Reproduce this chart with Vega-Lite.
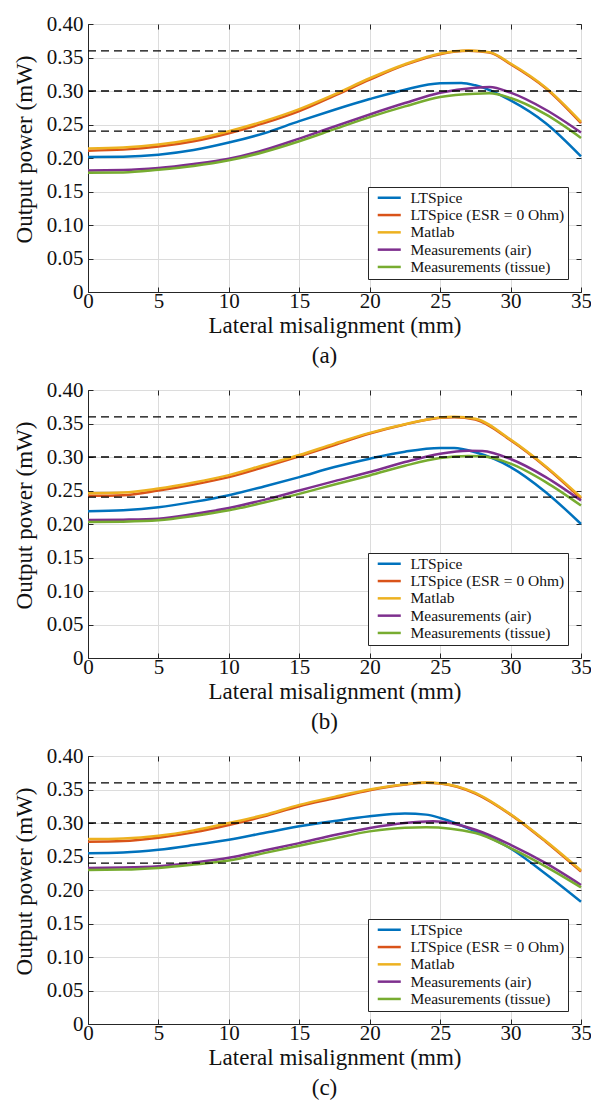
{
  "$schema": "https://vega.github.io/schema/vega-lite/v6.json",
  "background": "white",
  "padding": {"left": 12, "top": 12, "right": 0, "bottom": 0},
  "spacing": 9,
  "config": {
    "font": "Liberation Serif, Times New Roman, Tinos, DejaVu Serif, serif",
    "view": {"stroke": "#262626", "strokeWidth": 1},
    "axis": {
      "labelFont": "Liberation Serif, Times New Roman, Tinos, DejaVu Serif, serif",
      "labelFontSize": 21,
      "labelColor": "#111111",
      "titleFont": "Liberation Serif, Times New Roman, Tinos, DejaVu Serif, serif",
      "titleFontSize": 23,
      "titleFontWeight": "normal",
      "titleColor": "#111111",
      "gridColor": "#dcdcdc",
      "gridWidth": 1,
      "domainColor": "#262626",
      "tickColor": "#262626",
      "tickSize": -5,
      "labelFlush": false,
      "labelOverlap": false
    },
    "legend": {
      "orient": "bottom-right",
      "offset": 13,
      "title": null,
      "labelFont": "Liberation Serif, Times New Roman, Tinos, DejaVu Serif, serif",
      "labelFontSize": 15.5,
      "labelColor": "#111111",
      "strokeColor": "#262626",
      "fillColor": "white",
      "padding": 3,
      "symbolType": "M-2.5,0H2.5",
      "symbolSize": 85,
      "symbolStrokeWidth": 2.5,
      "symbolOffset": 10.5,
      "labelOffset": 13.5,
      "rowPadding": 0.3,
      "labelLimit": 300
    },
    "title": {"font": "Liberation Serif, Times New Roman, Tinos, DejaVu Serif, serif", "fontSize": 23, "fontWeight": "normal", "color": "#111111"}
  },
  "datasets": {
    "thresholds": [
      {"x": 0, "x2": 35, "level": 0.36},
      {"x": 0, "x2": 35, "level": 0.30},
      {"x": 0, "x2": 35, "level": 0.24}
    ],
    "curves": [
      {"panel": "a", "series": "LTSpice", "x": 0, "power": 0.2015},
      {"panel": "a", "series": "LTSpice", "x": 2.5, "power": 0.202},
      {"panel": "a", "series": "LTSpice", "x": 5, "power": 0.205},
      {"panel": "a", "series": "LTSpice", "x": 7.5, "power": 0.212},
      {"panel": "a", "series": "LTSpice", "x": 10, "power": 0.223},
      {"panel": "a", "series": "LTSpice", "x": 12.5, "power": 0.237},
      {"panel": "a", "series": "LTSpice", "x": 15, "power": 0.255},
      {"panel": "a", "series": "LTSpice", "x": 17.5, "power": 0.272},
      {"panel": "a", "series": "LTSpice", "x": 20, "power": 0.288},
      {"panel": "a", "series": "LTSpice", "x": 22.5, "power": 0.302},
      {"panel": "a", "series": "LTSpice", "x": 25, "power": 0.3115},
      {"panel": "a", "series": "LTSpice", "x": 26.5, "power": 0.312},
      {"panel": "a", "series": "LTSpice", "x": 27.5, "power": 0.3085},
      {"panel": "a", "series": "LTSpice", "x": 30, "power": 0.286},
      {"panel": "a", "series": "LTSpice", "x": 32.5, "power": 0.252},
      {"panel": "a", "series": "LTSpice", "x": 35, "power": 0.2025},

      {"panel": "a", "series": "LTSpice (ESR = 0 Ohm)", "x": 0, "power": 0.211},
      {"panel": "a", "series": "LTSpice (ESR = 0 Ohm)", "x": 2.5, "power": 0.2125},
      {"panel": "a", "series": "LTSpice (ESR = 0 Ohm)", "x": 5, "power": 0.217},
      {"panel": "a", "series": "LTSpice (ESR = 0 Ohm)", "x": 7.5, "power": 0.225},
      {"panel": "a", "series": "LTSpice (ESR = 0 Ohm)", "x": 10, "power": 0.237},
      {"panel": "a", "series": "LTSpice (ESR = 0 Ohm)", "x": 12.5, "power": 0.252},
      {"panel": "a", "series": "LTSpice (ESR = 0 Ohm)", "x": 15, "power": 0.270},
      {"panel": "a", "series": "LTSpice (ESR = 0 Ohm)", "x": 17.5, "power": 0.293},
      {"panel": "a", "series": "LTSpice (ESR = 0 Ohm)", "x": 20, "power": 0.317},
      {"panel": "a", "series": "LTSpice (ESR = 0 Ohm)", "x": 22.5, "power": 0.339},
      {"panel": "a", "series": "LTSpice (ESR = 0 Ohm)", "x": 25, "power": 0.355},
      {"panel": "a", "series": "LTSpice (ESR = 0 Ohm)", "x": 27, "power": 0.360},
      {"panel": "a", "series": "LTSpice (ESR = 0 Ohm)", "x": 28.5, "power": 0.3575},
      {"panel": "a", "series": "LTSpice (ESR = 0 Ohm)", "x": 30, "power": 0.340},
      {"panel": "a", "series": "LTSpice (ESR = 0 Ohm)", "x": 32.5, "power": 0.304},
      {"panel": "a", "series": "LTSpice (ESR = 0 Ohm)", "x": 35, "power": 0.252},

      {"panel": "a", "series": "Matlab", "x": 0, "power": 0.214},
      {"panel": "a", "series": "Matlab", "x": 2.5, "power": 0.2155},
      {"panel": "a", "series": "Matlab", "x": 5, "power": 0.220},
      {"panel": "a", "series": "Matlab", "x": 7.5, "power": 0.228},
      {"panel": "a", "series": "Matlab", "x": 10, "power": 0.240},
      {"panel": "a", "series": "Matlab", "x": 12.5, "power": 0.255},
      {"panel": "a", "series": "Matlab", "x": 15, "power": 0.273},
      {"panel": "a", "series": "Matlab", "x": 17.5, "power": 0.295},
      {"panel": "a", "series": "Matlab", "x": 20, "power": 0.319},
      {"panel": "a", "series": "Matlab", "x": 22.5, "power": 0.340},
      {"panel": "a", "series": "Matlab", "x": 25, "power": 0.356},
      {"panel": "a", "series": "Matlab", "x": 27, "power": 0.3605},
      {"panel": "a", "series": "Matlab", "x": 28.5, "power": 0.358},
      {"panel": "a", "series": "Matlab", "x": 30, "power": 0.341},
      {"panel": "a", "series": "Matlab", "x": 32.5, "power": 0.305},
      {"panel": "a", "series": "Matlab", "x": 35, "power": 0.254},

      {"panel": "a", "series": "Measurements (air)", "x": 0, "power": 0.1815},
      {"panel": "a", "series": "Measurements (air)", "x": 2.5, "power": 0.182},
      {"panel": "a", "series": "Measurements (air)", "x": 5, "power": 0.185},
      {"panel": "a", "series": "Measurements (air)", "x": 7.5, "power": 0.191},
      {"panel": "a", "series": "Measurements (air)", "x": 10, "power": 0.199},
      {"panel": "a", "series": "Measurements (air)", "x": 12.5, "power": 0.212},
      {"panel": "a", "series": "Measurements (air)", "x": 15, "power": 0.229},
      {"panel": "a", "series": "Measurements (air)", "x": 17.5, "power": 0.247},
      {"panel": "a", "series": "Measurements (air)", "x": 20, "power": 0.265},
      {"panel": "a", "series": "Measurements (air)", "x": 22.5, "power": 0.282},
      {"panel": "a", "series": "Measurements (air)", "x": 25, "power": 0.2975},
      {"panel": "a", "series": "Measurements (air)", "x": 27.5, "power": 0.305},
      {"panel": "a", "series": "Measurements (air)", "x": 28.5, "power": 0.306},
      {"panel": "a", "series": "Measurements (air)", "x": 30, "power": 0.2975},
      {"panel": "a", "series": "Measurements (air)", "x": 32.5, "power": 0.272},
      {"panel": "a", "series": "Measurements (air)", "x": 35, "power": 0.238},

      {"panel": "a", "series": "Measurements (tissue)", "x": 0, "power": 0.178},
      {"panel": "a", "series": "Measurements (tissue)", "x": 2.5, "power": 0.1785},
      {"panel": "a", "series": "Measurements (tissue)", "x": 5, "power": 0.1825},
      {"panel": "a", "series": "Measurements (tissue)", "x": 7.5, "power": 0.188},
      {"panel": "a", "series": "Measurements (tissue)", "x": 10, "power": 0.1965},
      {"panel": "a", "series": "Measurements (tissue)", "x": 12.5, "power": 0.209},
      {"panel": "a", "series": "Measurements (tissue)", "x": 15, "power": 0.225},
      {"panel": "a", "series": "Measurements (tissue)", "x": 17.5, "power": 0.243},
      {"panel": "a", "series": "Measurements (tissue)", "x": 20, "power": 0.261},
      {"panel": "a", "series": "Measurements (tissue)", "x": 22.5, "power": 0.277},
      {"panel": "a", "series": "Measurements (tissue)", "x": 25, "power": 0.291},
      {"panel": "a", "series": "Measurements (tissue)", "x": 27.5, "power": 0.296},
      {"panel": "a", "series": "Measurements (tissue)", "x": 28.5, "power": 0.2965},
      {"panel": "a", "series": "Measurements (tissue)", "x": 30, "power": 0.2895},
      {"panel": "a", "series": "Measurements (tissue)", "x": 32.5, "power": 0.265},
      {"panel": "a", "series": "Measurements (tissue)", "x": 35, "power": 0.230},

      {"panel": "b", "series": "LTSpice", "x": 0, "power": 0.219},
      {"panel": "b", "series": "LTSpice", "x": 2.5, "power": 0.2205},
      {"panel": "b", "series": "LTSpice", "x": 5, "power": 0.225},
      {"panel": "b", "series": "LTSpice", "x": 7.5, "power": 0.233},
      {"panel": "b", "series": "LTSpice", "x": 10, "power": 0.243},
      {"panel": "b", "series": "LTSpice", "x": 12.5, "power": 0.256},
      {"panel": "b", "series": "LTSpice", "x": 15, "power": 0.270},
      {"panel": "b", "series": "LTSpice", "x": 17.5, "power": 0.285},
      {"panel": "b", "series": "LTSpice", "x": 20, "power": 0.2975},
      {"panel": "b", "series": "LTSpice", "x": 22.5, "power": 0.308},
      {"panel": "b", "series": "LTSpice", "x": 25, "power": 0.3135},
      {"panel": "b", "series": "LTSpice", "x": 26, "power": 0.3135},
      {"panel": "b", "series": "LTSpice", "x": 27.5, "power": 0.307},
      {"panel": "b", "series": "LTSpice", "x": 30, "power": 0.285},
      {"panel": "b", "series": "LTSpice", "x": 32.5, "power": 0.2475},
      {"panel": "b", "series": "LTSpice", "x": 35, "power": 0.200},

      {"panel": "b", "series": "LTSpice (ESR = 0 Ohm)", "x": 0, "power": 0.242},
      {"panel": "b", "series": "LTSpice (ESR = 0 Ohm)", "x": 2.5, "power": 0.243},
      {"panel": "b", "series": "LTSpice (ESR = 0 Ohm)", "x": 5, "power": 0.250},
      {"panel": "b", "series": "LTSpice (ESR = 0 Ohm)", "x": 7.5, "power": 0.259},
      {"panel": "b", "series": "LTSpice (ESR = 0 Ohm)", "x": 10, "power": 0.270},
      {"panel": "b", "series": "LTSpice (ESR = 0 Ohm)", "x": 12.5, "power": 0.285},
      {"panel": "b", "series": "LTSpice (ESR = 0 Ohm)", "x": 15, "power": 0.301},
      {"panel": "b", "series": "LTSpice (ESR = 0 Ohm)", "x": 17.5, "power": 0.318},
      {"panel": "b", "series": "LTSpice (ESR = 0 Ohm)", "x": 20, "power": 0.335},
      {"panel": "b", "series": "LTSpice (ESR = 0 Ohm)", "x": 22.5, "power": 0.3485},
      {"panel": "b", "series": "LTSpice (ESR = 0 Ohm)", "x": 25, "power": 0.3585},
      {"panel": "b", "series": "LTSpice (ESR = 0 Ohm)", "x": 26, "power": 0.3595},
      {"panel": "b", "series": "LTSpice (ESR = 0 Ohm)", "x": 27.5, "power": 0.356},
      {"panel": "b", "series": "LTSpice (ESR = 0 Ohm)", "x": 30, "power": 0.325},
      {"panel": "b", "series": "LTSpice (ESR = 0 Ohm)", "x": 32.5, "power": 0.285},
      {"panel": "b", "series": "LTSpice (ESR = 0 Ohm)", "x": 35, "power": 0.238},

      {"panel": "b", "series": "Matlab", "x": 0, "power": 0.246},
      {"panel": "b", "series": "Matlab", "x": 2.5, "power": 0.247},
      {"panel": "b", "series": "Matlab", "x": 5, "power": 0.253},
      {"panel": "b", "series": "Matlab", "x": 7.5, "power": 0.262},
      {"panel": "b", "series": "Matlab", "x": 10, "power": 0.273},
      {"panel": "b", "series": "Matlab", "x": 12.5, "power": 0.288},
      {"panel": "b", "series": "Matlab", "x": 15, "power": 0.303},
      {"panel": "b", "series": "Matlab", "x": 17.5, "power": 0.320},
      {"panel": "b", "series": "Matlab", "x": 20, "power": 0.336},
      {"panel": "b", "series": "Matlab", "x": 22.5, "power": 0.349},
      {"panel": "b", "series": "Matlab", "x": 25, "power": 0.359},
      {"panel": "b", "series": "Matlab", "x": 26, "power": 0.360},
      {"panel": "b", "series": "Matlab", "x": 27.5, "power": 0.357},
      {"panel": "b", "series": "Matlab", "x": 30, "power": 0.326},
      {"panel": "b", "series": "Matlab", "x": 32.5, "power": 0.286},
      {"panel": "b", "series": "Matlab", "x": 35, "power": 0.240},

      {"panel": "b", "series": "Measurements (air)", "x": 0, "power": 0.206},
      {"panel": "b", "series": "Measurements (air)", "x": 2.5, "power": 0.2065},
      {"panel": "b", "series": "Measurements (air)", "x": 5, "power": 0.208},
      {"panel": "b", "series": "Measurements (air)", "x": 7.5, "power": 0.215},
      {"panel": "b", "series": "Measurements (air)", "x": 10, "power": 0.224},
      {"panel": "b", "series": "Measurements (air)", "x": 12.5, "power": 0.236},
      {"panel": "b", "series": "Measurements (air)", "x": 15, "power": 0.250},
      {"panel": "b", "series": "Measurements (air)", "x": 17.5, "power": 0.264},
      {"panel": "b", "series": "Measurements (air)", "x": 20, "power": 0.2775},
      {"panel": "b", "series": "Measurements (air)", "x": 22.5, "power": 0.2925},
      {"panel": "b", "series": "Measurements (air)", "x": 25, "power": 0.305},
      {"panel": "b", "series": "Measurements (air)", "x": 27, "power": 0.3095},
      {"panel": "b", "series": "Measurements (air)", "x": 28, "power": 0.309},
      {"panel": "b", "series": "Measurements (air)", "x": 30, "power": 0.297},
      {"panel": "b", "series": "Measurements (air)", "x": 32.5, "power": 0.270},
      {"panel": "b", "series": "Measurements (air)", "x": 35, "power": 0.235},

      {"panel": "b", "series": "Measurements (tissue)", "x": 0, "power": 0.203},
      {"panel": "b", "series": "Measurements (tissue)", "x": 2.5, "power": 0.2035},
      {"panel": "b", "series": "Measurements (tissue)", "x": 5, "power": 0.2055},
      {"panel": "b", "series": "Measurements (tissue)", "x": 7.5, "power": 0.212},
      {"panel": "b", "series": "Measurements (tissue)", "x": 10, "power": 0.2205},
      {"panel": "b", "series": "Measurements (tissue)", "x": 12.5, "power": 0.232},
      {"panel": "b", "series": "Measurements (tissue)", "x": 15, "power": 0.245},
      {"panel": "b", "series": "Measurements (tissue)", "x": 17.5, "power": 0.259},
      {"panel": "b", "series": "Measurements (tissue)", "x": 20, "power": 0.2725},
      {"panel": "b", "series": "Measurements (tissue)", "x": 22.5, "power": 0.287},
      {"panel": "b", "series": "Measurements (tissue)", "x": 25, "power": 0.2985},
      {"panel": "b", "series": "Measurements (tissue)", "x": 27, "power": 0.3015},
      {"panel": "b", "series": "Measurements (tissue)", "x": 28, "power": 0.301},
      {"panel": "b", "series": "Measurements (tissue)", "x": 30, "power": 0.290},
      {"panel": "b", "series": "Measurements (tissue)", "x": 32.5, "power": 0.2625},
      {"panel": "b", "series": "Measurements (tissue)", "x": 35, "power": 0.2275},

      {"panel": "c", "series": "LTSpice", "x": 0, "power": 0.255},
      {"panel": "c", "series": "LTSpice", "x": 2.5, "power": 0.256},
      {"panel": "c", "series": "LTSpice", "x": 5, "power": 0.260},
      {"panel": "c", "series": "LTSpice", "x": 7.5, "power": 0.267},
      {"panel": "c", "series": "LTSpice", "x": 10, "power": 0.275},
      {"panel": "c", "series": "LTSpice", "x": 12.5, "power": 0.285},
      {"panel": "c", "series": "LTSpice", "x": 15, "power": 0.295},
      {"panel": "c", "series": "LTSpice", "x": 17.5, "power": 0.303},
      {"panel": "c", "series": "LTSpice", "x": 20, "power": 0.310},
      {"panel": "c", "series": "LTSpice", "x": 22.5, "power": 0.314},
      {"panel": "c", "series": "LTSpice", "x": 24, "power": 0.3125},
      {"panel": "c", "series": "LTSpice", "x": 25, "power": 0.3075},
      {"panel": "c", "series": "LTSpice", "x": 27.5, "power": 0.2875},
      {"panel": "c", "series": "LTSpice", "x": 30, "power": 0.262},
      {"panel": "c", "series": "LTSpice", "x": 32.5, "power": 0.224},
      {"panel": "c", "series": "LTSpice", "x": 35, "power": 0.1825},

      {"panel": "c", "series": "LTSpice (ESR = 0 Ohm)", "x": 0, "power": 0.272},
      {"panel": "c", "series": "LTSpice (ESR = 0 Ohm)", "x": 2.5, "power": 0.273},
      {"panel": "c", "series": "LTSpice (ESR = 0 Ohm)", "x": 5, "power": 0.278},
      {"panel": "c", "series": "LTSpice (ESR = 0 Ohm)", "x": 7.5, "power": 0.286},
      {"panel": "c", "series": "LTSpice (ESR = 0 Ohm)", "x": 10, "power": 0.297},
      {"panel": "c", "series": "LTSpice (ESR = 0 Ohm)", "x": 12.5, "power": 0.310},
      {"panel": "c", "series": "LTSpice (ESR = 0 Ohm)", "x": 15, "power": 0.325},
      {"panel": "c", "series": "LTSpice (ESR = 0 Ohm)", "x": 17.5, "power": 0.337},
      {"panel": "c", "series": "LTSpice (ESR = 0 Ohm)", "x": 20, "power": 0.349},
      {"panel": "c", "series": "LTSpice (ESR = 0 Ohm)", "x": 22.5, "power": 0.3575},
      {"panel": "c", "series": "LTSpice (ESR = 0 Ohm)", "x": 24, "power": 0.360},
      {"panel": "c", "series": "LTSpice (ESR = 0 Ohm)", "x": 25, "power": 0.359},
      {"panel": "c", "series": "LTSpice (ESR = 0 Ohm)", "x": 27.5, "power": 0.344},
      {"panel": "c", "series": "LTSpice (ESR = 0 Ohm)", "x": 30, "power": 0.3125},
      {"panel": "c", "series": "LTSpice (ESR = 0 Ohm)", "x": 32.5, "power": 0.272},
      {"panel": "c", "series": "LTSpice (ESR = 0 Ohm)", "x": 35, "power": 0.2275},

      {"panel": "c", "series": "Matlab", "x": 0, "power": 0.276},
      {"panel": "c", "series": "Matlab", "x": 2.5, "power": 0.277},
      {"panel": "c", "series": "Matlab", "x": 5, "power": 0.281},
      {"panel": "c", "series": "Matlab", "x": 7.5, "power": 0.289},
      {"panel": "c", "series": "Matlab", "x": 10, "power": 0.300},
      {"panel": "c", "series": "Matlab", "x": 12.5, "power": 0.312},
      {"panel": "c", "series": "Matlab", "x": 15, "power": 0.327},
      {"panel": "c", "series": "Matlab", "x": 17.5, "power": 0.339},
      {"panel": "c", "series": "Matlab", "x": 20, "power": 0.350},
      {"panel": "c", "series": "Matlab", "x": 22.5, "power": 0.358},
      {"panel": "c", "series": "Matlab", "x": 24, "power": 0.3605},
      {"panel": "c", "series": "Matlab", "x": 25, "power": 0.3595},
      {"panel": "c", "series": "Matlab", "x": 27.5, "power": 0.345},
      {"panel": "c", "series": "Matlab", "x": 30, "power": 0.313},
      {"panel": "c", "series": "Matlab", "x": 32.5, "power": 0.273},
      {"panel": "c", "series": "Matlab", "x": 35, "power": 0.229},

      {"panel": "c", "series": "Measurements (air)", "x": 0, "power": 0.233},
      {"panel": "c", "series": "Measurements (air)", "x": 2.5, "power": 0.2335},
      {"panel": "c", "series": "Measurements (air)", "x": 5, "power": 0.2355},
      {"panel": "c", "series": "Measurements (air)", "x": 7.5, "power": 0.241},
      {"panel": "c", "series": "Measurements (air)", "x": 10, "power": 0.248},
      {"panel": "c", "series": "Measurements (air)", "x": 12.5, "power": 0.259},
      {"panel": "c", "series": "Measurements (air)", "x": 15, "power": 0.270},
      {"panel": "c", "series": "Measurements (air)", "x": 17.5, "power": 0.282},
      {"panel": "c", "series": "Measurements (air)", "x": 20, "power": 0.2925},
      {"panel": "c", "series": "Measurements (air)", "x": 22.5, "power": 0.300},
      {"panel": "c", "series": "Measurements (air)", "x": 24.5, "power": 0.3025},
      {"panel": "c", "series": "Measurements (air)", "x": 27.5, "power": 0.290},
      {"panel": "c", "series": "Measurements (air)", "x": 30, "power": 0.2675},
      {"panel": "c", "series": "Measurements (air)", "x": 32.5, "power": 0.240},
      {"panel": "c", "series": "Measurements (air)", "x": 35, "power": 0.2075},

      {"panel": "c", "series": "Measurements (tissue)", "x": 0, "power": 0.230},
      {"panel": "c", "series": "Measurements (tissue)", "x": 2.5, "power": 0.2305},
      {"panel": "c", "series": "Measurements (tissue)", "x": 5, "power": 0.233},
      {"panel": "c", "series": "Measurements (tissue)", "x": 7.5, "power": 0.238},
      {"panel": "c", "series": "Measurements (tissue)", "x": 10, "power": 0.244},
      {"panel": "c", "series": "Measurements (tissue)", "x": 12.5, "power": 0.255},
      {"panel": "c", "series": "Measurements (tissue)", "x": 15, "power": 0.266},
      {"panel": "c", "series": "Measurements (tissue)", "x": 17.5, "power": 0.277},
      {"panel": "c", "series": "Measurements (tissue)", "x": 20, "power": 0.2875},
      {"panel": "c", "series": "Measurements (tissue)", "x": 22.5, "power": 0.293},
      {"panel": "c", "series": "Measurements (tissue)", "x": 24, "power": 0.2935},
      {"panel": "c", "series": "Measurements (tissue)", "x": 27.5, "power": 0.285},
      {"panel": "c", "series": "Measurements (tissue)", "x": 30, "power": 0.2625},
      {"panel": "c", "series": "Measurements (tissue)", "x": 32.5, "power": 0.235},
      {"panel": "c", "series": "Measurements (tissue)", "x": 35, "power": 0.204}
    ]
  },
  "resolve": {"scale": {"color": "independent"}},
  "vconcat": [
    {
      "width": 493, "height": 268,
      "title": {"text": "(a)", "orient": "bottom", "frame": "group", "anchor": "middle", "offset": 8, "dx": -10},
      "layer": [
        {
          "data": {"name": "curves"},
          "transform": [{"filter": "datum.panel == 'a'"}],
          "mark": {"type": "line", "strokeWidth": 2.5, "interpolate": "monotone"},
          "encoding": {
            "x": {"field": "x", "type": "quantitative", "scale": {"domain": [0, 35], "nice": false},
                  "axis": {"values": [0, 5, 10, 15, 20, 25, 30, 35], "title": "Lateral misalignment (mm)", "labelPadding": 3, "titlePadding": 3, "grid": true}},
            "y": {"field": "power", "type": "quantitative", "scale": {"domain": [0, 0.4], "nice": false},
                  "axis": {"values": [0, 0.05, 0.1, 0.15, 0.2, 0.25, 0.3, 0.35, 0.4], "title": "Output power (mW)", "labelExpr": "datum.value == 0 ? '0' : format(datum.value, '.2f')", "labelPadding": 10, "titlePadding": 10, "titleY": 125, "grid": true}},
            "color": {"field": "series", "type": "nominal",
                      "scale": {"domain": ["LTSpice", "LTSpice (ESR = 0 Ohm)", "Matlab", "Measurements (air)", "Measurements (tissue)"], "range": ["#0072BD", "#D95319", "#EDB120", "#7E2F8E", "#77AC30"]}}
          }
        },
        {
          "data": {"name": "thresholds"},
          "mark": {"type": "rule", "color": "black", "strokeDash": [8, 5], "strokeWidth": 1.3},
          "encoding": {
            "x": {"field": "x", "type": "quantitative", "scale": {"domain": [0, 35], "nice": false},
                  "axis": {"orient": "top", "values": [0, 5, 10, 15, 20, 25, 30, 35], "labels": false, "title": null, "grid": false, "domain": false}},
            "x2": {"field": "x2"},
            "y": {"field": "level", "type": "quantitative", "scale": {"domain": [0, 0.4], "nice": false},
                  "axis": {"orient": "right", "values": [0, 0.05, 0.1, 0.15, 0.2, 0.25, 0.3, 0.35, 0.4], "labels": false, "title": null, "grid": false, "domain": false}}
          }
        }
      ],
      "resolve": {"axis": {"x": "independent", "y": "independent"}}
    },
    {
      "width": 493, "height": 268,
      "title": {"text": "(b)", "orient": "bottom", "frame": "group", "anchor": "middle", "offset": 8, "dx": -10},
      "layer": [
        {
          "data": {"name": "curves"},
          "transform": [{"filter": "datum.panel == 'b'"}],
          "mark": {"type": "line", "strokeWidth": 2.5, "interpolate": "monotone"},
          "encoding": {
            "x": {"field": "x", "type": "quantitative", "scale": {"domain": [0, 35], "nice": false},
                  "axis": {"values": [0, 5, 10, 15, 20, 25, 30, 35], "title": "Lateral misalignment (mm)", "labelPadding": 3, "titlePadding": 3, "grid": true}},
            "y": {"field": "power", "type": "quantitative", "scale": {"domain": [0, 0.4], "nice": false},
                  "axis": {"values": [0, 0.05, 0.1, 0.15, 0.2, 0.25, 0.3, 0.35, 0.4], "title": "Output power (mW)", "labelExpr": "datum.value == 0 ? '0' : format(datum.value, '.2f')", "labelPadding": 10, "titlePadding": 10, "titleY": 125, "grid": true}},
            "color": {"field": "series", "type": "nominal",
                      "scale": {"domain": ["LTSpice", "LTSpice (ESR = 0 Ohm)", "Matlab", "Measurements (air)", "Measurements (tissue)"], "range": ["#0072BD", "#D95319", "#EDB120", "#7E2F8E", "#77AC30"]}}
          }
        },
        {
          "data": {"name": "thresholds"},
          "mark": {"type": "rule", "color": "black", "strokeDash": [8, 5], "strokeWidth": 1.3},
          "encoding": {
            "x": {"field": "x", "type": "quantitative", "scale": {"domain": [0, 35], "nice": false},
                  "axis": {"orient": "top", "values": [0, 5, 10, 15, 20, 25, 30, 35], "labels": false, "title": null, "grid": false, "domain": false}},
            "x2": {"field": "x2"},
            "y": {"field": "level", "type": "quantitative", "scale": {"domain": [0, 0.4], "nice": false},
                  "axis": {"orient": "right", "values": [0, 0.05, 0.1, 0.15, 0.2, 0.25, 0.3, 0.35, 0.4], "labels": false, "title": null, "grid": false, "domain": false}}
          }
        }
      ],
      "resolve": {"axis": {"x": "independent", "y": "independent"}}
    },
    {
      "width": 493, "height": 268,
      "title": {"text": "(c)", "orient": "bottom", "frame": "group", "anchor": "middle", "offset": 8, "dx": -10},
      "layer": [
        {
          "data": {"name": "curves"},
          "transform": [{"filter": "datum.panel == 'c'"}],
          "mark": {"type": "line", "strokeWidth": 2.5, "interpolate": "monotone"},
          "encoding": {
            "x": {"field": "x", "type": "quantitative", "scale": {"domain": [0, 35], "nice": false},
                  "axis": {"values": [0, 5, 10, 15, 20, 25, 30, 35], "title": "Lateral misalignment (mm)", "labelPadding": 3, "titlePadding": 3, "grid": true}},
            "y": {"field": "power", "type": "quantitative", "scale": {"domain": [0, 0.4], "nice": false},
                  "axis": {"values": [0, 0.05, 0.1, 0.15, 0.2, 0.25, 0.3, 0.35, 0.4], "title": "Output power (mW)", "labelExpr": "datum.value == 0 ? '0' : format(datum.value, '.2f')", "labelPadding": 10, "titlePadding": 10, "titleY": 125, "grid": true}},
            "color": {"field": "series", "type": "nominal",
                      "scale": {"domain": ["LTSpice", "LTSpice (ESR = 0 Ohm)", "Matlab", "Measurements (air)", "Measurements (tissue)"], "range": ["#0072BD", "#D95319", "#EDB120", "#7E2F8E", "#77AC30"]}}
          }
        },
        {
          "data": {"name": "thresholds"},
          "mark": {"type": "rule", "color": "black", "strokeDash": [8, 5], "strokeWidth": 1.3},
          "encoding": {
            "x": {"field": "x", "type": "quantitative", "scale": {"domain": [0, 35], "nice": false},
                  "axis": {"orient": "top", "values": [0, 5, 10, 15, 20, 25, 30, 35], "labels": false, "title": null, "grid": false, "domain": false}},
            "x2": {"field": "x2"},
            "y": {"field": "level", "type": "quantitative", "scale": {"domain": [0, 0.4], "nice": false},
                  "axis": {"orient": "right", "values": [0, 0.05, 0.1, 0.15, 0.2, 0.25, 0.3, 0.35, 0.4], "labels": false, "title": null, "grid": false, "domain": false}}
          }
        }
      ],
      "resolve": {"axis": {"x": "independent", "y": "independent"}}
    }
  ]
}
